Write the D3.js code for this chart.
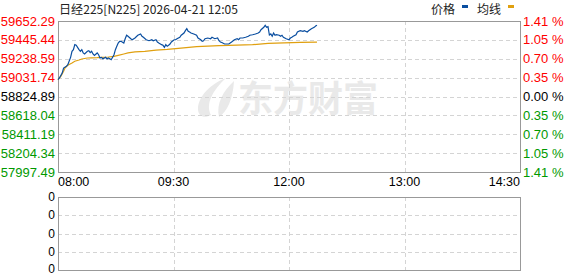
<!DOCTYPE html>
<html>
<head>
<meta charset="utf-8">
<script src="https://cdn.jsdelivr.net/npm/d3@7"></script>
<style>
  body { margin: 0; background: #fff; }
  text { font-family: "Liberation Sans", Arial, sans-serif; }
  .cjk { font-family: "Noto Sans CJK SC", sans-serif; }
  .grid { stroke: #d4d4d4; stroke-dasharray: 4,3; shape-rendering: crispEdges; }
</style>
</head>
<body>
<div id="mycontent"></div>
<script>
// chart data
var titleText = "日经225[N225] 2026-04-21 12:05";
var preClose = 58824.89;
var priceTicks = [59652.29, 59445.44, 59238.59, 59031.74, 58824.89, 58618.04, 58411.19, 58204.34, 57997.49];
var pctTicks = ["1.41 %", "1.05 %", "0.70 %", "0.35 %", "0.00 %", "0.35 %", "0.70 %", "1.05 %", "1.41 %"];
var timeLabels = ["08:00", "09:30", "12:00", "13:00", "14:30"];
var volTicks = ["0", "0", "0", "0", "0"];
var legendNames = ["价格", "均线"];
var totalMinutes = 330;

// [minute index, price]
var priceSeries = [
  [0,59009],[1,59028],[3,59082],[4,59137],[6,59156],[7,59173],[9,59254],[10,59320],[11,59338],[12,59393],
  [13,59386],[15,59338],[16,59320],[17,59338],[18,59302],[19,59291],[21,59320],[22,59327],[23,59305],[24,59320],
  [25,59291],[26,59276],[28,59302],[29,59283],[30,59247],[31,59254],[32,59239],[34,59254],[35,59236],[36,59247],
  [37,59239],[38,59228],[40,59283],[41,59338],[42,59375],[43,59411],[44,59430],[45,59430],[47,59411],[48,59458],
  [49,59496],[50,59485],[52,59458],[53,59447],[55,59466],[57,59496],[59,59510],[60,59485],[61,59474],[63,59447],
  [65,59436],[67,59447],[68,59436],[70,59447],[71,59422],[72,59411],[74,59393],[75,59386],[76,59364],[77,59393],
  [78,59375],[79,59386],[80,59400],[81,59422],[83,59447],[84,59447],[85,59458],[87,59474],[88,59496],[90,59521],
  [91,59546],[92,59568],[93,59539],[94,59532],[95,59521],[97,59510],[99,59496],[100,59466],[102,59447],[103,59430],
  [104,59436],[105,59458],[107,59466],[109,59458],[110,59474],[112,59458],[114,59466],[115,59436],[116,59422],[117,59416],
  [119,59400],[122,59400],[124,59422],[126,59447],[128,59458],[129,59447],[130,59466],[132,59466],[134,59474],[136,59485],
  [137,59496],[139,59502],[141,59510],[143,59521],[144,59532],[145,59557],[147,59583],[148,59605],[149,59583],[150,59590],
  [151,59499],[152,59510],[153,59485],[154,59521],[155,59496],[156,59502],[158,59496],[159,59485],[160,59496],[161,59474],
  [163,59458],[165,59447],[166,59466],[167,59474],[168,59485],[170,59502],[171,59532],[173,59546],[175,59539],[176,59546],
  [178,59532],[179,59546],[181,59568],[183,59583],[184,59597],[185,59605]
];

// [minute index, average price]
var avgSeries = [
  [0,59009],[2,59046],[4,59101],[5,59137],[7,59167],[10,59192],[12,59211],[15,59225],[17,59236],[21,59247],
  [24,59249],[28,59250],[31,59254],[36,59258],[40,59265],[43,59276],[47,59291],[50,59302],[55,59313],[62,59320],
  [70,59334],[78,59342],[86,59353],[99,59371],[115,59382],[122,59386],[139,59393],[150,59408],[173,59419],[185,59420]
];

var red = "#ff0000", green = "#009900", black = "#000";
var margin = { left: 58, right: 520, top: 21, bottom: 172 };
var vol = { top: 197, bottom: 270 };

var svg = d3.select("#mycontent").append("svg")
  .attr("width", 578)
  .attr("height", 276);

var xScale = d3.scaleLinear().domain([0, totalMinutes]).range([margin.left, margin.right]);
var yScale = d3.scaleLinear()
  .domain([d3.min(priceTicks), d3.max(priceTicks)])
  .range([margin.bottom, margin.top]);
var tickPos = d3.scaleLinear().domain([0, timeLabels.length - 1]).range([margin.left, margin.right]);
var volScale = d3.scaleLinear().domain([0, volTicks.length - 1]).range([vol.top, vol.bottom]);

// watermark
var wm = svg.append("g").attr("fill", "#e9e9e9");
wm.append("path")
  .attr("d", "M226,78 C210,84 198,97 198,109 C198,116 204,119 211,115 C205,104 213,90 226,78 Z M234,81 C223,91 216,104 219,117 C227,112 233,99 234,81 Z");
wm.append("text")
  .attr("class", "cjk")
  .attr("x", 238).attr("y", 112)
  .style("font-size", "36px")
  .style("font-weight", "bold")
  .attr("textLength", 140)
  .attr("lengthAdjust", "spacingAndGlyphs")
  .text("东方财富");

// grid lines main panel
svg.selectAll(".hgrid").data(priceTicks.slice(1, -1)).enter().append("line")
  .attr("class", "grid")
  .attr("x1", margin.left).attr("x2", margin.right)
  .attr("y1", function (d) { return Math.round(yScale(d)) + 0.5; })
  .attr("y2", function (d) { return Math.round(yScale(d)) + 0.5; });
svg.selectAll(".vgrid").data(d3.range(1, timeLabels.length - 1)).enter().append("line")
  .attr("class", "grid")
  .attr("y1", margin.top).attr("y2", margin.bottom)
  .attr("x1", function (d) { return Math.round(tickPos(d)) + 0.5; })
  .attr("x2", function (d) { return Math.round(tickPos(d)) + 0.5; });

// grid lines volume panel
svg.selectAll(".vhgrid").data(d3.range(1, volTicks.length - 1)).enter().append("line")
  .attr("class", "grid")
  .attr("x1", margin.left).attr("x2", margin.right)
  .attr("y1", function (d) { return Math.round(volScale(d)) + 0.5; })
  .attr("y2", function (d) { return Math.round(volScale(d)) + 0.5; });
svg.selectAll(".vvgrid").data(d3.range(1, timeLabels.length - 1)).enter().append("line")
  .attr("class", "grid")
  .attr("y1", vol.top).attr("y2", vol.bottom)
  .attr("x1", function (d) { return Math.round(tickPos(d)) + 0.5; })
  .attr("x2", function (d) { return Math.round(tickPos(d)) + 0.5; });

// frames
svg.append("rect")
  .attr("x", margin.left + 0.5).attr("y", margin.top + 0.5)
  .attr("width", margin.right - margin.left).attr("height", margin.bottom - margin.top)
  .attr("fill", "none").attr("stroke", "#999");
svg.append("rect")
  .attr("x", margin.left + 0.5).attr("y", vol.top + 0.5)
  .attr("width", margin.right - margin.left).attr("height", vol.bottom - vol.top)
  .attr("fill", "none").attr("stroke", "#999");

// lines
var line = d3.line()
  .x(function (d) { return xScale(d[0]); })
  .y(function (d) { return yScale(d[1]); });

svg.append("path")
  .datum(avgSeries)
  .attr("fill", "none")
  .attr("stroke", "#e0a010")
  .attr("stroke-width", 1.2)
  .attr("d", line);

svg.append("path")
  .datum(priceSeries)
  .attr("fill", "none")
  .attr("stroke", "#0a4ea0")
  .attr("stroke-width", 1.2)
  .attr("d", line);

// left price labels
function tickColor(v) {
  if (v > preClose + 0.001) return red;
  if (v < preClose - 0.001) return green;
  return black;
}
svg.selectAll(".ylab").data(priceTicks).enter().append("text")
  .attr("x", 55)
  .attr("y", function (d) { return yScale(d); })
  .attr("dy", "0.35em")
  .attr("text-anchor", "end")
  .style("font-size", "13px")
  .attr("fill", tickColor)
  .text(function (d) { return d.toFixed(2); });

// right percent labels
svg.selectAll(".plab").data(pctTicks).enter().append("text")
  .attr("x", 523)
  .attr("y", function (d, i) { return yScale(priceTicks[i]); })
  .attr("dy", "0.35em")
  .style("font-size", "13px")
  .attr("fill", function (d, i) { return tickColor(priceTicks[i]); })
  .text(function (d) { return d; });

// time labels
svg.selectAll(".tlab").data(timeLabels).enter().append("text")
  .attr("x", function (d, i) { return tickPos(i); })
  .attr("y", 182)
  .attr("dy", "0.35em")
  .attr("text-anchor", function (d, i) { return i == 0 ? "start" : (i == timeLabels.length - 1 ? "end" : "middle"); })
  .style("font-size", "12.5px")
  .attr("fill", black)
  .text(function (d) { return d; });

// volume labels
svg.selectAll(".vlab").data(volTicks).enter().append("text")
  .attr("x", 55)
  .attr("y", function (d, i) { return Math.min(volScale(i), 269); })
  .attr("dy", "0.35em")
  .attr("text-anchor", "end")
  .style("font-size", "12px")
  .attr("fill", black)
  .text(function (d) { return d; });

// title
svg.append("text")
  .attr("class", "cjk")
  .attr("x", 59).attr("y", 14)
  .style("font-size", "12px")
  .attr("fill", "#222")
  .attr("textLength", 179)
  .attr("lengthAdjust", "spacingAndGlyphs")
  .text(titleText);

// legend
var legendX = [431, 477];
var legendColor = ["#0a4ea0", "#e0a010"];
legendNames.forEach(function (name, i) {
  svg.append("text")
    .attr("class", "cjk")
    .attr("x", legendX[i]).attr("y", 14)
    .style("font-size", "12px")
    .attr("fill", "#222")
    .text(name);
  svg.append("rect")
    .attr("x", legendX[i] + 31).attr("y", 5)
    .attr("width", 6).attr("height", 3)
    .attr("fill", legendColor[i]);
});
</script>
</body>
</html>
